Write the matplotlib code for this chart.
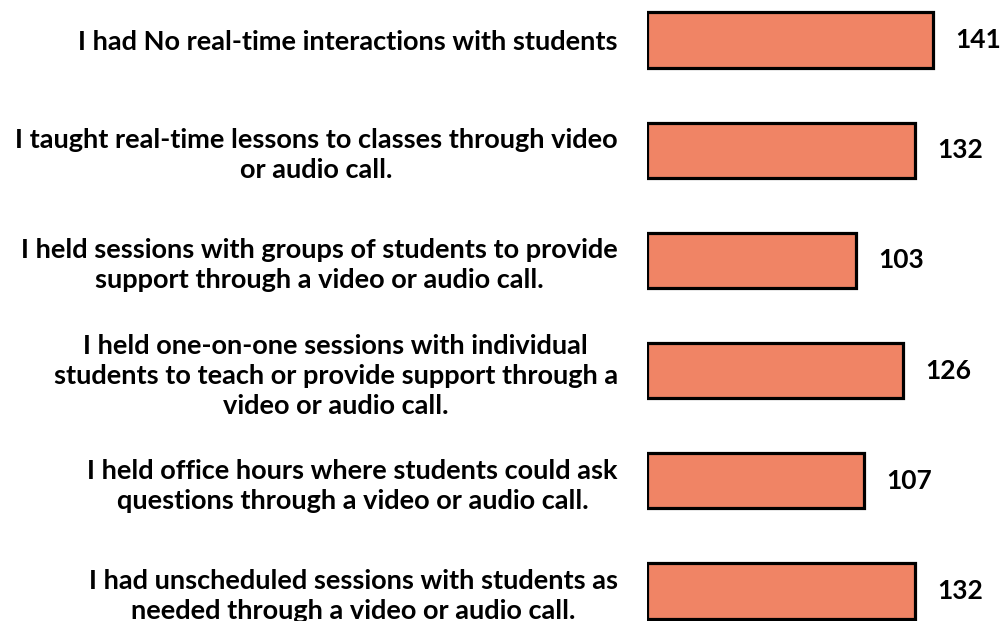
import numpy as np
import matplotlib.pyplot as plt

labels = [
    "I had No real-time interactions with students",
    "I taught real-time lessons to classes through video\nor audio call.",
    "I held sessions with groups of students to provide\nsupport through a video or audio call.",
    "I held one-on-one sessions with individual\nstudents to teach or provide support through a\nvideo or audio call.",
    "I held office hours where students could ask\nquestions through a video or audio call.",
    "I had unscheduled sessions with students as\nneeded through a video or audio call.",
]
counts = [141, 132, 103, 126, 107, 132]

bar_color = "#F08465"

plt.rcParams['font.family'] = ['Lato', 'DejaVu Sans']

fig = plt.figure(figsize=(10, 6.21), dpi=100)
# axes starts where the bars start; bars run to the right edge
ax = fig.add_axes([0.647, 0.0, 0.353, 1.0])

y = np.arange(len(labels))
ax.barh(y, counts, height=0.5, color=bar_color, edgecolor='black', linewidth=2.3)

ax.set_xlim(0, 353 / 2.03)
ax.set_ylim((621 - 40) / 110.2, -40 / 110.2)

ax.set_yticks(y)
ax.set_yticklabels(labels, fontsize=19.5, fontweight='bold')
for lbl in ax.get_yticklabels():
    lbl.set_multialignment('center')
    lbl.set_linespacing(1.3)
ax.tick_params(axis='y', length=0, pad=21)
ax.set_xticks([])
for s in ax.spines.values():
    s.set_visible(False)

for yi, c in zip(y, counts):
    ax.annotate(str(c), (c, yi), xytext=(16, 0), textcoords='offset points',
                va='center', ha='left', fontsize=19, fontweight='bold')

fig.savefig('out.png', dpi=100)
